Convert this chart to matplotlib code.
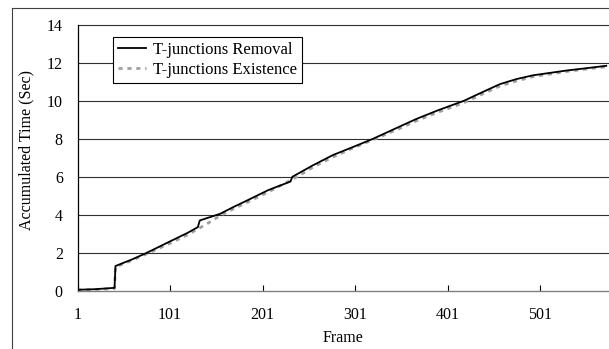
import matplotlib
matplotlib.use("Agg")
import matplotlib.pyplot as plt
from matplotlib.lines import Line2D

# ---- data ----
removal_frames = [1, 20, 41, 42, 60, 76, 101, 120, 131, 133, 155, 169, 184, 207,
                  231, 233, 255, 277, 300, 320, 349, 367, 390, 418, 440, 457,
                  475, 493, 529, 550, 572]
removal_time = [0.05, 0.08, 0.15, 1.3, 1.65, 2.0, 2.6, 3.05, 3.35, 3.7, 4.05, 4.4,
                4.75, 5.3, 5.75, 6.0, 6.6, 7.15, 7.6, 8.0, 8.65, 9.05, 9.5, 10.0,
                10.5, 10.88, 11.15, 11.35, 11.6, 11.72, 11.85]

existence_frames = [1, 20, 41, 42, 60, 76, 101, 120, 140, 155, 169, 184, 207,
                    240, 255, 277, 300, 320, 349, 367, 390, 418, 440, 457, 475,
                    493, 529, 550, 572]
existence_time = [0.03, 0.06, 0.12, 1.25, 1.6, 1.95, 2.5, 2.95, 3.5, 3.95, 4.3,
                  4.65, 5.2, 6.05, 6.5, 7.05, 7.55, 7.95, 8.55, 8.95, 9.4, 9.9,
                  10.4, 10.78, 11.05, 11.28, 11.55, 11.68, 11.8]

x_ticks = [1, 101, 201, 301, 401, 501]
y_ticks = [0, 2, 4, 6, 8, 10, 12, 14]
series_labels = ["T-junctions Removal", "T-junctions Existence"]
x_label = "Frame"
y_label = "Accumulated Time (Sec)"

plt.rcParams['font.family'] = ['Liberation Serif', 'DejaVu Serif']
plt.rcParams['lines.scale_dashes'] = False

W, H = 609, 349
fig = plt.figure(figsize=(W / 100, H / 100), dpi=100)
fig.patch.set_facecolor('white')

left_px, right_px, top_px, bottom_px = 77.5, 609, 25, 290.7
ax = fig.add_axes([left_px / W, 1 - bottom_px / H,
                   (right_px - left_px) / W, (bottom_px - top_px) / H])

# figure frame (left and top edges visible)
fig.add_artist(Line2D([12.3 / W, 12.3 / W], [0, 1 - 8.3 / H],
                      transform=fig.transFigure, color='#404040', lw=0.8))
fig.add_artist(Line2D([12.3 / W, 1], [1 - 8.3 / H, 1 - 8.3 / H],
                      transform=fig.transFigure, color='#404040', lw=0.8))

# gridlines
for yv in y_ticks[1:]:
    ax.axhline(yv, color='#303030', lw=0.8, zorder=1, clip_on=False)

dash = (0, (3.0, 3.4))
ln_e, = ax.plot(existence_frames, existence_time, color='#a0a0a0', lw=2.0,
                linestyle=dash, zorder=2)
ln_r, = ax.plot(removal_frames, removal_time, color='black', lw=1.3, zorder=3)

ax.set_xlim(1, 575)
ax.set_ylim(0, 14)
ax.set_xticks(x_ticks)
ax.set_yticks(y_ticks)
ax.tick_params(axis='x', direction='in', length=4.3, width=0.8, pad=11.5,
               labelsize=11.5, colors='black')
ax.tick_params(axis='y', length=0, pad=10.6, labelsize=11.5)

for s in ['top', 'right']:
    ax.spines[s].set_visible(False)
ax.spines['left'].set_color('black')
ax.spines['left'].set_linewidth(0.9)
ax.spines['bottom'].set_color('#808080')
ax.spines['bottom'].set_linewidth(1.0)

fig.text(26.7 / W, 1 - 150 / H, y_label, rotation=90, ha='center', va='center',
         fontsize=11.5)
fig.text(343.3 / W, 1 - 338 / H, x_label, ha='center', va='center',
         fontsize=11.5)

leg = fig.legend([ln_r, Line2D([], [], color='#a0a0a0', lw=2.0, linestyle=dash)],
                 series_labels, loc='upper left',
                 bbox_to_anchor=(112.7 / W, 1 - 36.7 / H),
                 bbox_transform=fig.transFigure, borderaxespad=0,
                 fontsize=12, frameon=True, fancybox=False,
                 handlelength=1.7, handletextpad=0.4, borderpad=0.3,
                 labelspacing=0.26)
leg.get_frame().set_edgecolor('black')
leg.get_frame().set_linewidth(0.8)
leg.get_frame().set_facecolor('white')
leg.get_frame().set_alpha(1)

fig.savefig("out.png", dpi=100, facecolor='white')
